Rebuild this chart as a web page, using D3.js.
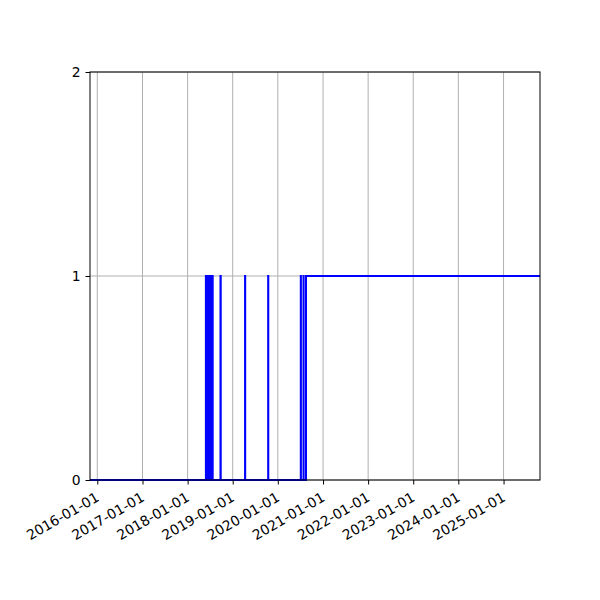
<!DOCTYPE html>
<html>
<head>
<meta charset="utf-8">
<script src="https://cdn.jsdelivr.net/npm/d3@7"></script>
<style>
  body { margin: 0; background: #fff; }
  svg { display: block; }
</style>
</head>
<body>
<div id="chart"></div>
<script>
// dates where the state changes, and the state from that date on
const changeDates = [
    '2015-11-03',
    '2018-05-29', '2018-06-02', '2018-06-05', '2018-06-10', '2018-06-14', '2018-06-19',
    '2018-06-23', '2018-06-28', '2018-07-02', '2018-07-07', '2018-07-11', '2018-07-16',
    '2018-07-19', '2018-07-23',
    '2018-09-24', '2018-09-26',
    '2019-04-11', '2019-04-12',
    '2019-10-15', '2019-10-16',
    '2020-07-05', '2020-07-06',
    '2020-07-27', '2020-07-28',
    '2020-08-16',
    '2025-10-23'
];
const changeValues = [
    0,
    1, 0, 1, 0, 1, 0,
    1, 0, 1, 0, 1, 0,
    1, 0,
    1, 0,
    1, 0,
    1, 0,
    1, 0,
    1, 0,
    1,
    1
];
const yTicks = [0, 1, 2];
const xTickYears = [2016, 2017, 2018, 2019, 2020, 2021, 2022, 2023, 2024, 2025];

const width = 600, height = 600;
const margin = { top: 72, right: 60, bottom: 120, left: 90 };
const innerW = width - margin.left - margin.right;
const innerH = height - margin.top - margin.bottom;

const parse = d3.utcParse('%Y-%m-%d');
const data = changeDates.map((d, i) => ({ date: parse(d), value: changeValues[i] }));

const svg = d3.select('#chart')
    .append('svg')
    .attr('width', width)
    .attr('height', height);

const g = svg.append('g')
    .attr('transform', `translate(${margin.left},${margin.top})`);

const x = d3.scaleUtc()
    .domain(d3.extent(data, d => d.date))
    .range([0, innerW]);

const y = d3.scaleLinear()
    .domain([0, 2])
    .range([innerH, 0]);

const xTicks = xTickYears.map(yr => new Date(Date.UTC(yr, 0, 1)));

// grid
g.append('g')
    .selectAll('line')
    .data(xTicks)
    .enter()
    .append('line')
    .attr('x1', d => x(d)).attr('x2', d => x(d))
    .attr('y1', 0).attr('y2', innerH)
    .style('stroke', '#b0b0b0')
    .style('stroke-width', '1px');

g.append('g')
    .selectAll('line')
    .data(yTicks)
    .enter()
    .append('line')
    .attr('x1', 0).attr('x2', innerW)
    .attr('y1', d => y(d)).attr('y2', d => y(d))
    .style('stroke', '#b0b0b0')
    .style('stroke-width', '1px');

// step line
const line = d3.line()
    .x(d => x(d.date))
    .y(d => y(d.value))
    .curve(d3.curveStepAfter);

g.append('path')
    .datum(data)
    .attr('d', line)
    .style('fill', 'none')
    .style('stroke', '#0000ff')
    .style('stroke-width', '2px');

// axes
const xAxis = g.append('g')
    .attr('transform', `translate(0,${innerH})`)
    .call(d3.axisBottom(x)
        .tickValues(xTicks)
        .tickFormat(d3.utcFormat('%Y-%m-%d'))
        .tickSize(4.5)
        .tickPadding(4));

xAxis.selectAll('text')
    .style('font-family', 'DejaVu Sans, sans-serif')
    .style('font-size', '13.9px')
    .style('fill', '#000')
    .attr('text-anchor', 'end')
    .attr('x', 0)
    .attr('y', 0)
    .attr('dy', '0.76em')
    .attr('transform', 'translate(-3,11) rotate(-30)');

const yAxis = g.append('g')
    .call(d3.axisLeft(y)
        .tickValues(yTicks)
        .tickFormat(d3.format('d'))
        .tickSize(4.5)
        .tickPadding(5));

yAxis.selectAll('text')
    .style('font-family', 'DejaVu Sans, sans-serif')
    .style('font-size', '13.9px')
    .style('fill', '#000');

svg.selectAll('.domain').remove();
g.selectAll('.tick line').style('stroke', '#000').style('stroke-width', '1px');

// frame
g.append('rect')
    .attr('width', innerW)
    .attr('height', innerH)
    .style('fill', 'none')
    .style('stroke', '#000')
    .style('stroke-width', '1px');
</script>
</body>
</html>
